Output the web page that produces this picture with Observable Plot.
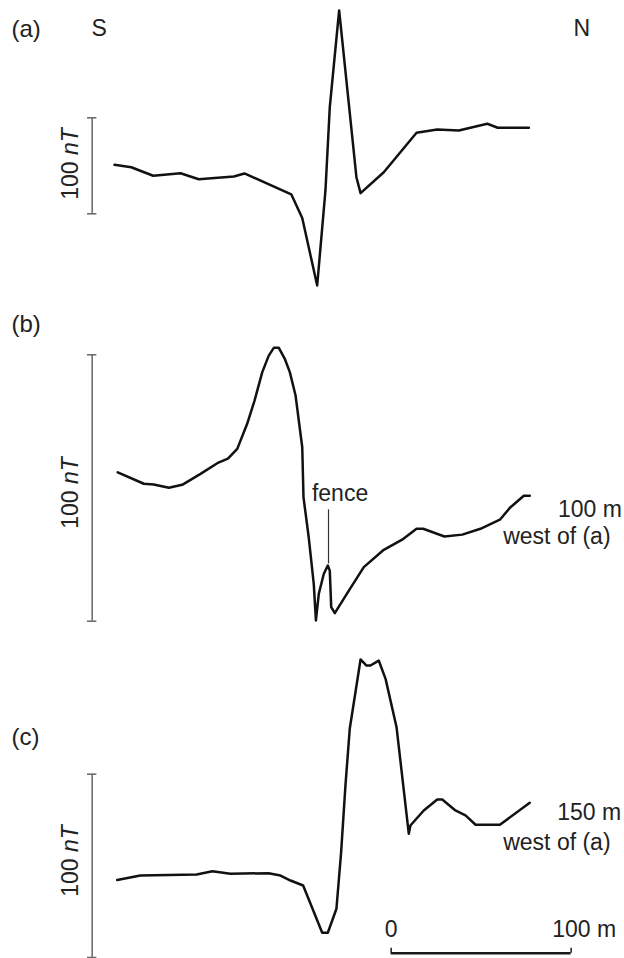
<!DOCTYPE html>
<html>
<head>
<meta charset="utf-8">
<script src="https://cdn.jsdelivr.net/npm/d3@7"></script>
<script src="https://cdn.jsdelivr.net/npm/@observablehq/plot@0.6"></script>
<style>
  body { margin: 0; background: #fff; }
  #chart { width: 624px; height: 958px; overflow: hidden; }
  #chart svg { display: block; }
</style>
</head>
<body>
<div id="chart"></div>
<script>
// ---- Data: distance along profile (m, from south end) and field (nT, relative to scale-bar base) ----
const distA = [0, 9.3, 21.5, 36.7, 46.8, 66.3, 72.2, 98.2, 104.3, 112.6, 117.2, 119.6, 124.8, 134.4, 136.7, 149.6, 167.8, 179.3, 191.3, 207.1, 212.9, 230.2];
const fieldA = [51.0, 48.5, 39.6, 42.3, 36.0, 38.9, 42.0, 20.3, -4.4, -74.7, 24.3, 111.0, 211.8, 38.1, 21.5, 43.3, 84.4, 87.8, 86.8, 93.8, 89.6, 89.6];

const distB = [1.8, 16.3, 21.8, 30.2, 37.6, 47.8, 57.1, 63.0, 68.2, 73.7, 77.8, 82.1, 85.7, 88.5, 91.3, 94.6, 97.4, 100.6, 104.3, 105.0, 107.9, 110.7, 111.9, 113.5, 116.3, 118.5, 119.6, 120.4, 122.4, 130.2, 138.5, 149.6, 159.8, 167.8, 171.5, 183.3, 193.2, 203.3, 214.1, 220.0, 227.4, 230.7];
const fieldB = [55.9, 51.6, 51.3, 50.1, 51.2, 55.3, 59.3, 61.0, 64.7, 74.1, 82.8, 93.5, 99.7, 102.6, 102.6, 98.5, 93.5, 84.7, 65.3, 46.5, 31.5, 14.0, 0.3, 10.3, 17.8, 20.9, 19.0, 5.3, 3.0, 11.5, 20.3, 26.8, 30.6, 34.7, 34.7, 31.8, 32.5, 34.7, 38.1, 42.8, 47.1, 47.1];

const distC = [1.5, 14.4, 45.6, 54.4, 64.4, 85.6, 92.2, 97.8, 104.8, 115.4, 118.5, 123.3, 125.9, 128.3, 130.7, 136.7, 140.0, 142.2, 146.8, 150.6, 156.7, 163.5, 164.4, 171.8, 179.3, 182.1, 189.4, 195.0, 200.6, 214.1, 230.7];
const fieldC = [42.3, 44.7, 45.3, 47.1, 45.7, 46.0, 44.7, 42.0, 39.3, 13.5, 13.5, 26.6, 57.4, 93.8, 124.8, 162.6, 159.3, 159.3, 162.0, 152.0, 125.6, 67.5, 72.0, 80.2, 86.2, 86.2, 80.2, 77.5, 72.4, 72.4, 84.4];

const panelLetters = ["(a)", "(b)", "(c)"];
const directionLabels = ["S", "N"];
const fieldBarValues = [0, 100];          // 100 nT vertical scale bar
const fieldBarLabel = ["100", "nT"];
const distanceBar = [153.7, 253.7];       // 100 m horizontal scale bar
const distanceBarLabels = ["0", "100 m"];
const fenceLabel = "fence";
const fencePosition = 118.9;
const fenceRange = [21.5, 41.8];
const offsetLabelsB = ["100 m", "west of (a)"];
const offsetLabelsC = ["150 m", "west of (a)"];

// ---- Styling / layout ----
const FONT = "'Liberation Sans', Arial, Helvetica, sans-serif";
const FS = 23;
const TEXT = "#222";
const BAR = "#666";
const X = {domain: [0, 230], range: [114, 528]};
const barX = -12.4;
const barLabelX = -20.3;

function series(d, v) { return d.map((x, i) => ({x, v: v[i]})); }

function panel({height, yRange, data, letterDy, labelShift = 0, extra = []}) {
  return Plot.plot({
    width: 624,
    height,
    margin: 0,
    style: {fontFamily: FONT, fontSize: FS + "px", color: TEXT, background: "transparent"},
    x: {...X, axis: null},
    y: {domain: [0, 100], range: yRange, axis: null},
    marks: [
      // 100 nT scale bar
      Plot.ruleX([barX], {y1: fieldBarValues[0], y2: fieldBarValues[1], stroke: BAR, strokeWidth: 1.5}),
      Plot.ruleY(fieldBarValues, {x1: barX - 2.6, x2: barX + 2.6, stroke: BAR, strokeWidth: 1.5}),
      Plot.text([fieldBarLabel[0]], {x: barLabelX, y: 50, rotate: -90, textAnchor: "end", lineAnchor: "bottom", dy: -2.6 + labelShift, fill: TEXT, fontSize: FS}),
      Plot.text([fieldBarLabel[1]], {x: barLabelX, y: 50, rotate: -90, textAnchor: "start", lineAnchor: "bottom", dy: -9 + labelShift, fill: TEXT, fontSize: FS, fontStyle: "italic"}),
      // panel letter
      Plot.text([data.letter], {frameAnchor: "top-left", dx: 11, dy: letterDy, textAnchor: "start", lineAnchor: "bottom", fill: TEXT, fontSize: 24}),
      // profile
      Plot.line(data.points, {x: "x", y: "v", stroke: "#111", strokeWidth: 2.5, strokeLinejoin: "round", strokeLinecap: "round"}),
      ...extra
    ]
  });
}

const chart = document.getElementById("chart");

chart.append(panel({
  height: 300,
  yRange: [213.3, 117.3],
  letterDy: 36,
  labelShift: -1.8,
  data: {letter: panelLetters[0], points: series(distA, fieldA)},
  extra: [
    Plot.text([directionLabels[0]], {frameAnchor: "top-left", dx: 91, dy: 35, textAnchor: "start", lineAnchor: "bottom", fill: TEXT, fontSize: FS}),
    Plot.text([directionLabels[1]], {frameAnchor: "top-left", dx: 573, dy: 35, textAnchor: "start", lineAnchor: "bottom", fill: TEXT, fontSize: FS})
  ]
}));

chart.append(panel({
  height: 340,
  yRange: [320.7, 54.3],
  letterDy: 31,
  labelShift: 5,
  data: {letter: panelLetters[1], points: series(distB, fieldB)},
  extra: [
    Plot.ruleX([fencePosition], {y1: fenceRange[0], y2: fenceRange[1], stroke: "#333", strokeWidth: 1.2}),
    Plot.text([fenceLabel], {x: fencePosition + 6.4, y: 45, textAnchor: "middle", lineAnchor: "bottom", fill: TEXT, fontSize: FS}),
    Plot.text([offsetLabelsB[0]], {x: 281.9, y: 39.0, textAnchor: "end", lineAnchor: "bottom", fill: TEXT, fontSize: FS}),
    Plot.text([offsetLabelsB[1]], {x: 275.6, y: 28.8, textAnchor: "end", lineAnchor: "bottom", fill: TEXT, fontSize: FS})
  ]
}));

chart.append(panel({
  height: 318,
  yRange: [317, 133.7],
  letterDy: 104,
  labelShift: -4.8,
  data: {letter: panelLetters[2], points: series(distC, fieldC)},
  extra: [
    Plot.text([offsetLabelsC[0]], {x: 281.5, y: 75.1, textAnchor: "end", lineAnchor: "bottom", fill: TEXT, fontSize: FS}),
    Plot.text([offsetLabelsC[1]], {x: 275.6, y: 58.9, textAnchor: "end", lineAnchor: "bottom", fill: TEXT, fontSize: FS}),
    // 100 m distance scale bar
    Plot.ruleY([2.35], {x1: distanceBar[0], x2: distanceBar[1], stroke: "#1a1a1a", strokeWidth: 2.4}),
    Plot.ruleX(distanceBar, {y1: 2.35, y2: 5.0, stroke: "#1a1a1a", strokeWidth: 1.5}),
    Plot.text([distanceBarLabels[0]], {x: distanceBar[0], y: 11.1, textAnchor: "middle", lineAnchor: "bottom", fill: TEXT, fontSize: FS}),
    Plot.text([distanceBarLabels[1]], {x: distanceBar[1], y: 11.1, dx: -19, textAnchor: "start", lineAnchor: "bottom", fill: TEXT, fontSize: FS})
  ]
}));
</script>
</body>
</html>
